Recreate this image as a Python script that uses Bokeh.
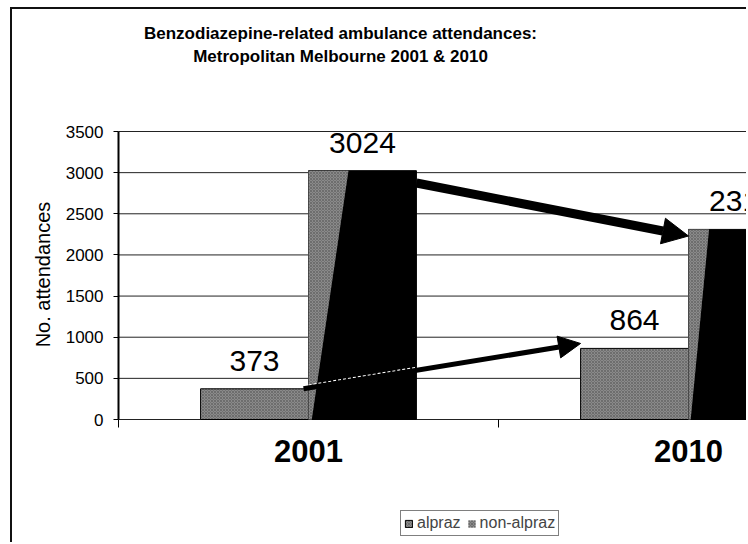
import math
from bokeh.plotting import figure
from bokeh.models import (Range1d, FixedTicker, LinearAxis, LabelSet, ColumnDataSource,
                          Arrow, NormalHead, Legend, LegendItem, Label)
from bokeh.embed import file_html
from bokeh.resources import INLINE
from bokeh.core.properties import value

# ---------------- data ----------------
years = ["2001", "2010"]
alpraz = [373, 864]
non_alpraz = [3024, 2310]
y_ticks = [0, 500, 1000, 1500, 2000, 2500, 3000, 3500]
series_names = ["alpraz", "non-alpraz"]
title_lines = ["Benzodiazepine-related ambulance attendances:",
               "Metropolitan Melbourne 2001 & 2010"]
y_label = "No. attendances"

# ---------------- layout / style ----------------
FONT = "Liberation Sans"
BW = 0.284                      # bar width (category units)
GRAD_TOP = [0.37, 0.19]         # grey sheen width at top of dark bars (fraction of bar)
GRAD_BOT = [0.03, 0.02]
GREY = "#8a8a8a"

W, H = 736, 535                 # canvas (page offset 12, 9 after css margin + border)
OX, OY = 12, 9
PX_PER_CAT = 380.0              # pixels per category
PLOT_LEFT, PLOT_ZERO, PLOT_TOP = 118, 419, 131   # page pixels of x=0, y=0, y=top tick
YMAX = y_ticks[-1]
PX_PER_Y = (PLOT_ZERO - PLOT_TOP) / YMAX

x0 = -(PLOT_LEFT - OX) / PX_PER_CAT
x1 = x0 + W / PX_PER_CAT
y1 = YMAX + (PLOT_TOP - OY) / PX_PER_Y
y0 = -(OY + H - PLOT_ZERO) / PX_PER_Y


def dx(px):  # page x pixel -> data x (only for text placement)
    return (px - PLOT_LEFT) / PX_PER_CAT


def dy(py):  # page y pixel -> data y (only for text placement)
    return (PLOT_ZERO - py) / PX_PER_Y


n = len(years)
centers = [i + 0.5 for i in range(n)]
x_al = [c - BW / 2 for c in centers]
x_na = [c + BW / 2 for c in centers]

p = figure(width=W, height=H, output_backend="svg", toolbar_location=None,
           x_range=Range1d(x0, x1), y_range=Range1d(y0, y1),
           min_border_left=0, min_border_right=0, min_border_top=0, min_border_bottom=0,
           x_axis_type=None, y_axis_type=None)
p.outline_line_color = None
p.background_fill_color = "white"
p.border_fill_color = "white"
p.xgrid.visible = False
p.ygrid.visible = False
p.styles = {"border-left": "2px solid #111", "border-top": "2px solid #111",
            "margin-left": "10px", "margin-top": "7px"}

# gridlines (from the tick list)
p.segment(x0=[0] * len(y_ticks), y0=y_ticks, x1=[x1] * len(y_ticks), y1=y_ticks,
          line_color="#222222", line_width=1)

# axes fixed at the data origin
yax = LinearAxis(ticker=FixedTicker(ticks=y_ticks), fixed_location=0)
yax.axis_line_color = None
yax.major_tick_out = 5
yax.major_tick_in = 0
yax.minor_tick_out = 0
yax.minor_tick_in = 0
yax.major_tick_line_color = "black"
yax.major_label_standoff = 10
yax.major_label_text_font = FONT
yax.major_label_text_font_size = "17px"
yax.major_label_text_color = "black"
p.add_layout(yax, "left")

xax = LinearAxis(ticker=FixedTicker(ticks=centers, minor_ticks=list(range(n + 1))),
                 fixed_location=0)
xax.major_label_overrides = {c: y for c, y in zip(centers, years)}
xax.axis_line_color = None
xax.major_tick_out = 0
xax.major_tick_in = 0
xax.minor_tick_out = 8
xax.minor_tick_in = 0
xax.minor_tick_line_color = "black"
xax.major_label_standoff = 12
xax.major_label_text_font = FONT
xax.major_label_text_font_size = "31px"
xax.major_label_text_font_style = "bold"
xax.major_label_text_color = "black"
p.add_layout(xax, "below")

# y axis line
p.segment(x0=[0], y0=[y_ticks[0]], x1=[0], y1=[y_ticks[-1]], line_color="black", line_width=2)

# bars
hatch = dict(hatch_pattern="diagonal_cross", hatch_scale=3, hatch_color="#5a5a5a",
             hatch_alpha=0.6, hatch_weight=1)
r_al = p.vbar(x=x_al, top=alpraz, width=BW, bottom=0, fill_color=GREY, line_color="black",
              line_width=1, **hatch)
r_na = p.vbar(x=x_na, top=non_alpraz, width=BW, bottom=0, fill_color="black",
              line_color="black", line_width=1)
# grey sheen on the dark bars (derived from the bar data)
xs, ys = [], []
for i in range(n):
    xl = x_na[i] - BW / 2
    xs.append([xl, xl, xl + GRAD_TOP[i] * BW, xl + GRAD_BOT[i] * BW])
    ys.append([0, non_alpraz[i], non_alpraz[i], 0])
r_sheen = p.patches(xs=xs, ys=ys, fill_color=GREY, line_color=None, **hatch)

# value labels
lab_src = ColumnDataSource(dict(x=x_al + x_na, y=alpraz + non_alpraz,
                                t=[str(v) for v in alpraz + non_alpraz]))
p.add_layout(LabelSet(x="x", y="y", text="t", source=lab_src, y_offset=18,
                      text_align="center", text_baseline="alphabetic",
                      text_font=value(FONT), text_font_size=value("30px"),
                      text_color="black"))

# arrows (anchored to the bars)
a1 = dict(x0=x_na[0] + BW / 2, y0=non_alpraz[0] - 150, x1=x_na[1] - BW / 2, y1=non_alpraz[1] - 80)
a2 = dict(x0=x_al[0] + BW / 2 - 0.013, y0=alpraz[0], x1=x_al[1] - BW / 2, y1=alpraz[1] + 60)
p.add_layout(Arrow(end=NormalHead(size=26, fill_color="black", line_color="black"),
                   x_start=a1["x0"], y_start=a1["y0"], x_end=a1["x1"], y_end=a1["y1"],
                   line_width=9, line_color="black"))
p.add_layout(Arrow(end=NormalHead(size=22, fill_color="black", line_color="black"),
                   x_start=a2["x0"], y_start=a2["y0"], x_end=a2["x1"], y_end=a2["y1"],
                   line_width=5, line_color="black"))
bl, br = x_na[0] - BW / 2, x_na[0] + BW / 2
slope = (a2["y1"] - a2["y0"]) / (a2["x1"] - a2["x0"])
p.line(x=[bl, br], y=[a2["y0"] + slope * (bl - a2["x0"]) + 35, a2["y0"] + slope * (br - a2["x0"]) + 35],
       line_color="white", line_width=1.5, line_dash="3 2")

# titles and axis label
p.add_layout(Label(x=dx(340), y=dy(33), text=title_lines[0], text_align="center",
                   text_baseline="middle", text_font=FONT, text_font_size="17px",
                   text_font_style="bold", text_color="black"))
p.add_layout(Label(x=dx(340), y=dy(56), text=title_lines[1], text_align="center",
                   text_baseline="middle", text_font=FONT, text_font_size="17px",
                   text_font_style="bold", text_color="black"))
p.add_layout(Label(x=dx(42), y=dy(274), text=y_label, angle=math.pi / 2,
                   text_align="center", text_baseline="middle", text_font=FONT,
                   text_font_size="20px", text_color="black"))

# legend
legend = Legend(items=[LegendItem(label=series_names[0], renderers=[r_al]),
                       LegendItem(label=series_names[1], renderers=[r_sheen])],
                orientation="horizontal", location=(400 - OX, OY + H - 536),
                label_text_font=FONT, label_text_font_size="16px",
                glyph_width=9, glyph_height=9, label_standoff=4, spacing=6,
                padding=3, margin=0, border_line_color="black", border_line_width=1,
                background_fill_alpha=1)
p.add_layout(legend, "center")

open("out.html", "w").write(file_html(p, INLINE))
